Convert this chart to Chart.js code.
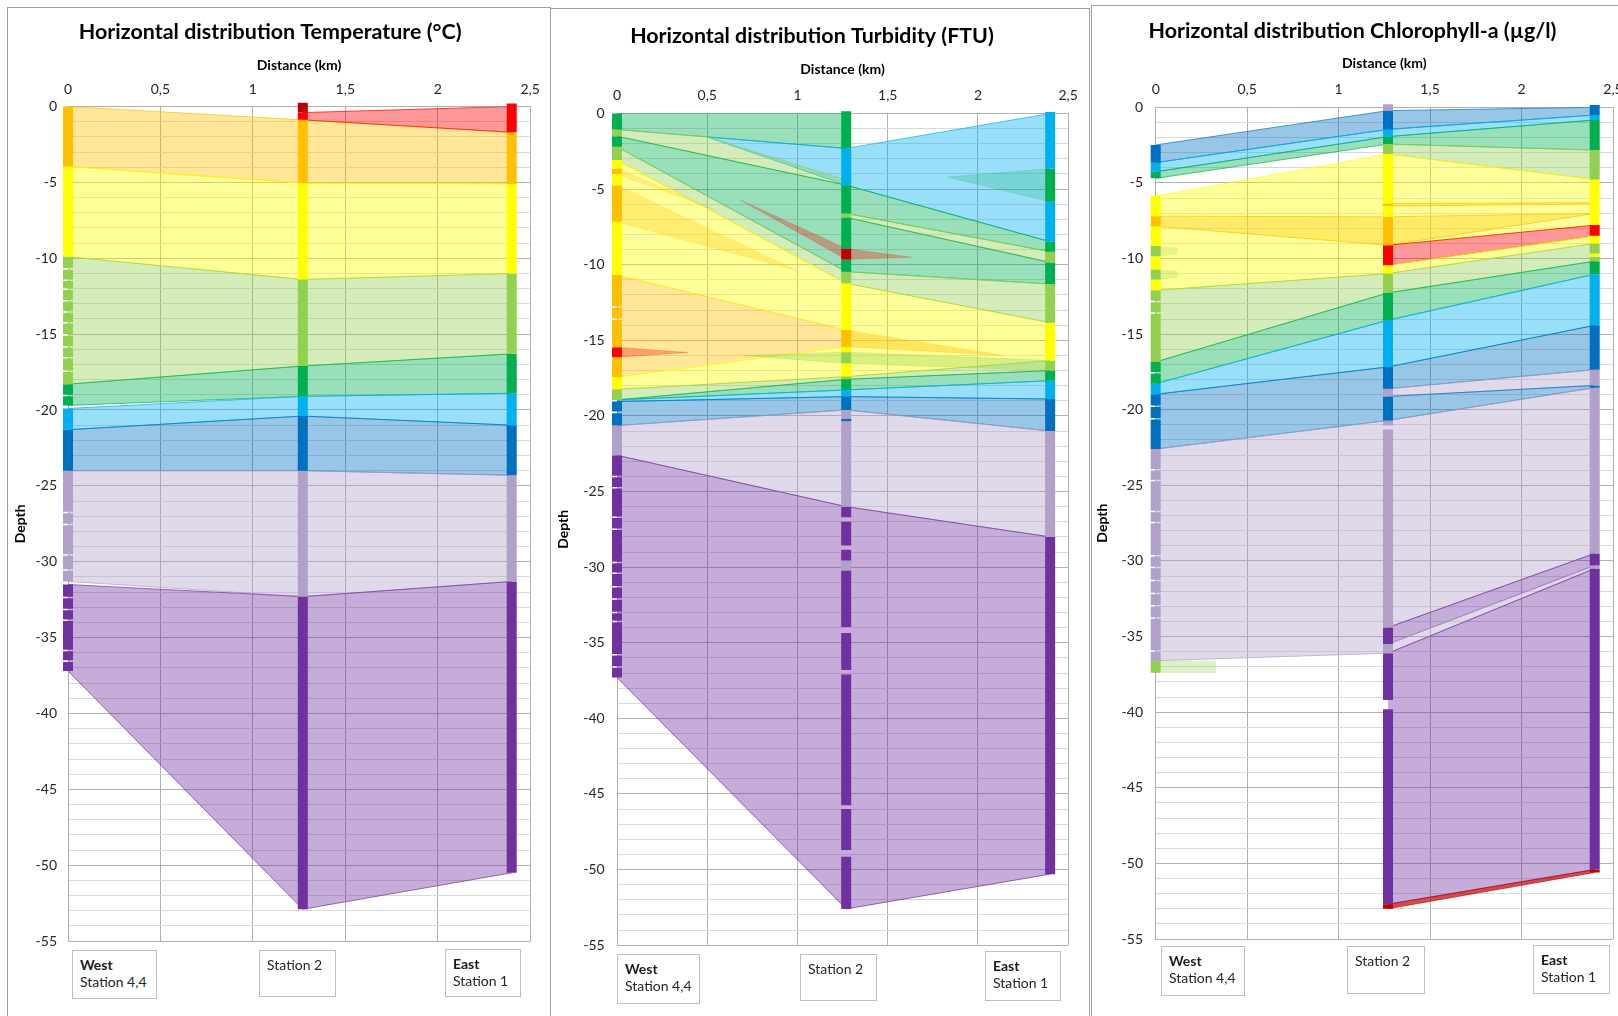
<!DOCTYPE html>
<html>
<head>
<meta charset="utf-8">
<title>Horizontal distribution</title>
<script src="https://cdn.jsdelivr.net/npm/chart.js@4.4.1/dist/chart.umd.min.js"></script>
<style>
  html, body { margin: 0; padding: 0; background: #fff; width: 1618px; height: 1016px; overflow: hidden; position: relative; }
  .panel { position: absolute; border: 1px solid #a0a0a0; background: #fff; box-sizing: border-box; }
  canvas { position: absolute; }
  .box { position: absolute; border: 1px solid #bfbfbf; background: #fff; box-sizing: border-box;
         font: 14px Lato, "Open Sans", sans-serif; color: #262626; line-height: 17px; padding: 5px 0 0 7px; }
  .box b { font-weight: 700; color: #1a1a1a; }
</style>
</head>
<body>
<div class="panel" style="left:7px;top:7px;width:544px;height:1012px"></div>
<div class="panel" style="left:550px;top:8px;width:540px;height:1011px"></div>
<div class="panel" style="left:1091px;top:5px;width:560px;height:1014px"></div>

<canvas id="tempChart" width="541" height="1007" style="left:8px;top:8px"></canvas>
<canvas id="turbChart" width="537" height="1006" style="left:551px;top:9px"></canvas>
<canvas id="chlChart" width="546" height="1009" style="left:1092px;top:6px"></canvas>

<div class="box" style="left:72px;top:950px;width:85px;height:49px"><b>West</b><br>Station 4,4</div>
<div class="box" style="left:259px;top:950px;width:77px;height:47px">Station 2</div>
<div class="box" style="left:445px;top:949px;width:76px;height:48px"><b>East</b><br>Station 1</div>

<div class="box" style="left:617px;top:954px;width:83px;height:50px"><b>West</b><br>Station 4,4</div>
<div class="box" style="left:800px;top:954px;width:77px;height:47px">Station 2</div>
<div class="box" style="left:985px;top:951px;width:76px;height:50px"><b>East</b><br>Station 1</div>

<div class="box" style="left:1161px;top:946px;width:84px;height:50px"><b>West</b><br>Station 4,4</div>
<div class="box" style="left:1347px;top:946px;width:78px;height:48px">Station 2</div>
<div class="box" style="left:1533px;top:945px;width:77px;height:49px"><b>East</b><br>Station 1</div>

<script>
// ---- axes ----
const distanceTicks  = [0, 0.5, 1, 1.5, 2, 2.5];
const distanceLabels = ['0', '0,5', '1', '1,5', '2', '2,5'];
const depthLabels    = [0, -5, -10, -15, -20, -25, -30, -35, -40, -45, -50, -55];

// ---- station positions along the transect (km) ----
const stationKm = [0, 1.27, 2.4];
const W = stationKm[0], M = stationKm[1], E = stationKm[2];

// class colours
const palette = {
  dred: '#C00000', red: '#FF0000', orange: '#FFC000', yellow: '#FFFF00', lgreen: '#92D050',
  green: '#00B050', lblue: '#00B0F0', blue: '#0070C0', lav: '#B1A0C7', purple: '#7030A0'
};

// ===== Temperature =====
// band: [class, x (km), top depth, bottom depth, fill opacity?, outline opacity?]
const tempBands = [
  ['orange', [W, M, E], [0, -0.88, -1.7], [-3.95, -5.05, -5.1]],
  ['red',    [M, E], [-0.4, 0], [-0.88, -1.7]],
  ['yellow', [W, M, E], [-3.95, -5.05, -5.1], [-9.9, -11.4, -11.0]],
  ['lgreen', [W, M, E], [-9.9, -11.4, -11.0], [-18.3, -17.1, -16.3]],
  ['green',  [W, M, E], [-18.3, -17.1, -16.3], [-19.7, -19.1, -18.9]],
  ['lblue',  [W, M, E], [-19.9, -19.1, -18.9], [-21.3, -20.4, -21.0]],
  ['blue',   [W, M, E], [-21.3, -20.4, -21.0], [-24.0, -24.0, -24.3]],
  ['lav',    [W, M, E], [-24.0, -24.0, -24.3], [-31.3, -32.3, -31.3]],
  ['purple', [W, M, E], [-31.5, -32.3, -31.3], [-37.2, -52.9, -50.5]]
];
// profile segments: [class, top, bottom]
const tempProfileW = [
  ['orange', 0, -3.95], ['yellow', -3.95, -9.9],
  ['lgreen', -9.9, -10.65], ['lgreen', -10.75, -11.4], ['lgreen', -11.5, -12.0], ['lgreen', -12.1, -12.75],
  ['lgreen', -12.85, -13.5], ['lgreen', -13.6, -14.2], ['lgreen', -14.3, -15.0], ['lgreen', -15.1, -15.8],
  ['lgreen', -15.9, -16.5], ['lgreen', -16.6, -17.4], ['lgreen', -17.5, -18.3],
  ['green', -18.3, -19.0], ['green', -19.1, -19.7],
  ['lblue', -19.9, -21.3], ['blue', -21.3, -24.0],
  ['lav', -24.0, -26.7], ['lav', -26.8, -27.5], ['lav', -27.6, -29.5], ['lav', -29.6, -30.5], ['lav', -30.6, -31.3],
  ['purple', -31.5, -32.3], ['purple', -32.4, -33.1], ['purple', -33.2, -33.8], ['purple', -33.9, -35.8],
  ['purple', -35.9, -36.5], ['purple', -36.6, -37.2]
];
const tempProfileM = [
  ['dred', 0.25, -0.4], ['red', -0.4, -0.88], ['orange', -0.88, -5.05], ['yellow', -5.05, -11.4],
  ['lgreen', -11.4, -17.1], ['green', -17.1, -19.1], ['lblue', -19.1, -20.4], ['blue', -20.4, -24.0],
  ['lav', -24.0, -32.3], ['purple', -32.3, -52.9]
];
const tempProfileE = [
  ['red', 0.2, -1.7], ['orange', -1.7, -5.1], ['yellow', -5.1, -11.0], ['lgreen', -11.0, -16.3],
  ['green', -16.3, -18.9], ['lblue', -18.9, -21.0], ['blue', -21.0, -24.3], ['lav', -24.3, -31.3],
  ['purple', -31.3, -50.5]
];

// ===== Turbidity =====
const turbBands = [
  ['green',  [W, M], [0, 0], [-1.06, -2.31]],
  ['lblue',  [0.5, M, E], [-1.55, -2.31, 0], [-1.55, -4.74, -8.48]],
  ['lgreen', [W, 0.5, M], [-1.06, -1.55, -4.4], [-1.5, -2.78, -4.74]],
  ['green',  [W, M], [-1.5, -4.74], [-2.2, -10.46]],
  ['lgreen', [W, M], [-2.2, -10.46], [-3.08, -11.23]],
  ['yellow', [W, M], [-3.08, -11.23], [-10.68, -14.32]],
  ['orange', [W, 0.55], [-3.63, -6.4], [-4.0, -6.4], 0.25, 0.2],
  ['orange', [W, 1.0], [-4.74, -10.4], [-7.16, -10.4], 0.28, 0.2],
  ['yellow', [M, E], [-11.23, -13.83], [-17.4, -16.34]],
  ['orange', [W, M, 2.14], [-10.68, -14.32, -16.0], [-17.44, -15.42, -16.0], 0.4, 0.25],
  ['yellow', [W, M], [-17.44, -15.42], [-18.24, -17.4]],
  ['lgreen', [0.7, M, E], [-16.0, -15.79, -16.34], [-16.0, -16.52, -17.0], 0.35, 0.3],
  ['red',    [W, 0.39], [-15.46, -15.8], [-16.12, -15.8], 0.3, 0.2],
  ['lgreen', [W, M, E], [-18.24, -17.4, -16.34], [-18.94, -17.58, -17.0]],
  ['green',  [W, M, E], [-18.94, -17.58, -17.0], [-18.94, -18.28, -17.67]],
  ['lblue',  [W, M, E], [-18.94, -18.28, -17.67], [-19.05, -18.72, -18.88]],
  ['blue',   [W, M, E], [-19.05, -18.72, -18.88], [-20.64, -19.6, -21.0]],
  ['lav',    [W, M, E], [-20.64, -19.6, -21.0], [-22.6, -26.0, -28.0]],
  ['purple', [W, M, E], [-22.6, -26.0, -28.0], [-37.3, -52.6, -50.3]],
  ['green',  [1.83, E], [-4.2, -3.63], [-4.2, -5.84], 0.22, 0.15],
  ['green',  [M, E], [-4.74, -8.48], [-6.61, -9.14]],
  ['lgreen', [M, E], [-6.61, -9.14], [-6.87, -9.85]],
  ['green',  [M, E], [-6.87, -9.85], [-10.46, -11.28]],
  ['lgreen', [M, E], [-10.46, -11.28], [-11.23, -13.83]],
  ['red',    [0.68, M, 1.63], [-5.7, -8.92, -9.5], [-5.7, -9.65, -9.5], 0.3, 0.15]
];
const turbProfileW = [
  ['green', 0, -1.06], ['lgreen', -1.06, -1.5], ['green', -1.5, -2.2], ['lgreen', -2.2, -3.08],
  ['yellow', -3.08, -3.63], ['orange', -3.63, -4.0], ['yellow', -4.0, -4.74], ['orange', -4.74, -7.16],
  ['yellow', -7.16, -10.68], ['orange', -10.68, -12.75], ['orange', -12.85, -13.55], ['orange', -13.65, -15.46],
  ['red', -15.46, -16.12], ['orange', -16.12, -17.44], ['yellow', -17.44, -18.24], ['lgreen', -18.24, -18.94],
  ['blue', -19.05, -19.71], ['blue', -19.82, -20.64], ['lav', -20.64, -22.6],
  ['purple', -22.6, -23.95], ['purple', -24.05, -24.7], ['purple', -24.8, -26.65], ['purple', -26.75, -27.45],
  ['purple', -27.55, -29.65], ['purple', -29.75, -30.35], ['purple', -30.45, -31.25], ['purple', -31.35, -32.05],
  ['purple', -32.15, -32.95], ['purple', -33.05, -33.55], ['purple', -33.65, -35.75], ['purple', -35.85, -36.55],
  ['purple', -36.65, -37.3]
];
const turbProfileM = [
  ['green', 0.15, -2.31], ['lblue', -2.31, -4.74], ['green', -4.74, -6.61], ['lgreen', -6.61, -6.87],
  ['green', -6.87, -8.92], ['dred', -8.92, -9.65], ['green', -9.65, -10.46], ['lgreen', -10.46, -11.23],
  ['yellow', -11.23, -14.32], ['orange', -14.32, -15.42], ['yellow', -15.42, -15.79], ['lgreen', -15.79, -16.52],
  ['yellow', -16.52, -17.4], ['lgreen', -17.4, -17.58], ['green', -17.58, -18.28], ['lblue', -18.28, -18.72],
  ['blue', -18.72, -19.6], ['lav', -19.6, -20.2], ['blue', -20.2, -20.35], ['lav', -20.35, -26.0],
  ['purple', -26.0, -26.7], ['purple', -27.0, -28.57], ['purple', -28.85, -29.56], ['lav', -29.56, -30.22],
  ['purple', -30.22, -33.96], ['purple', -34.36, -36.8], ['purple', -37.1, -45.75], ['purple', -46.0, -48.7],
  ['purple', -49.15, -52.6]
];
const turbProfileE = [
  ['lblue', 0.1, -3.63], ['green', -3.63, -5.84], ['lblue', -5.84, -8.48], ['green', -8.48, -9.14],
  ['lgreen', -9.14, -9.85], ['green', -9.85, -11.28], ['lgreen', -11.28, -13.83], ['yellow', -13.83, -16.34],
  ['lgreen', -16.34, -17.0], ['green', -17.0, -17.67], ['lblue', -17.67, -18.88], ['blue', -18.88, -21.0],
  ['lav', -21.0, -28.0], ['purple', -28.0, -50.3]
];

// ===== Chlorophyll-a =====
const chlBands = [
  ['blue',   [W, M, E], [-2.49, -0.22, 0], [-3.66, -1.46, -0.51]],
  ['lblue',  [W, M, E], [-3.66, -1.46, -0.51], [-4.26, -1.94, -0.84]],
  ['green',  [W, M, E], [-4.26, -1.94, -0.84], [-4.7, -2.43, -2.83]],
  ['lgreen', [M, E], [-2.43, -2.83], [-3.09, -4.77]],
  ['yellow', [W, M], [-5.87, -3.09], [-12.1, -10.99]],
  ['yellow', [M, E], [-3.09, -4.77], [-9.12, -7.79]],
  ['orange', [M, E], [-6.36, -6.31], [-6.53, -6.4]],
  ['orange', [W, M, E], [-7.2, -7.24, -7.02], [-7.86, -9.12, -7.02], 0.32],
  ['red',    [M, E], [-9.12, -7.79], [-10.44, -8.5]],
  ['yellow', [M, E], [-10.44, -8.5], [-10.99, -9.0]],
  ['lgreen', [W, M, E], [-12.1, -10.99, -9.0], [-16.84, -12.27, -10.18]],
  ['green',  [W, M, E], [-16.84, -12.27, -10.18], [-18.28, -14.08, -11.04]],
  ['lblue',  [W, M, E], [-18.28, -14.08, -11.04], [-18.98, -17.17, -14.42]],
  ['blue',   [W, M], [-18.98, -17.17], [-22.6, -20.71]],
  ['blue',   [M, E], [-17.17, -14.42], [-18.61, -17.35]],
  ['lav',    [M, E], [-18.61, -17.35], [-19.12, -18.39]],
  ['blue',   [M, E], [-19.12, -18.39], [-20.71, -18.54]],
  ['lav',    [W, M], [-22.6, -20.71], [-36.6, -36.1]],
  ['lav',    [M, E], [-20.71, -18.54], [-34.4, -29.5]],
  ['purple', [M, E], [-34.4, -29.5], [-35.5, -30.3]],
  ['lav',    [M, E], [-35.5, -30.3], [-36.1, -30.5]],
  ['purple', [M, E], [-36.1, -30.5], [-52.7, -50.4]],
  ['dred',   [M, E], [-52.7, -50.4], [-53.0, -50.6], 0.7, 0.6],
  ['lgreen', [W, 0.33], [-36.6, -36.6], [-37.4, -37.4], 0.3, 0.1],
  ['lgreen', [W, 0.12], [-9.18, -9.3], [-9.85, -9.7], 0.25, 0.1],
  ['lgreen', [W, 0.12], [-10.73, -10.85], [-11.39, -11.25], 0.25, 0.1]
];
const chlProfileW = [
  ['blue', -2.49, -3.66], ['lblue', -3.66, -4.26], ['green', -4.26, -4.7],
  ['yellow', -5.87, -7.2], ['orange', -7.2, -7.86], ['yellow', -7.86, -9.18], ['lgreen', -9.18, -9.85],
  ['yellow', -9.85, -10.73], ['lgreen', -10.73, -11.39], ['yellow', -11.39, -12.1],
  ['lgreen', -12.1, -12.8], ['lgreen', -12.9, -13.55], ['lgreen', -13.65, -16.84],
  ['green', -16.84, -17.5], ['green', -17.6, -18.28], ['lblue', -18.28, -18.98],
  ['blue', -18.98, -19.72], ['blue', -19.82, -20.55], ['blue', -20.65, -22.6],
  ['lav', -22.6, -23.92], ['lav', -24.02, -24.63], ['lav', -24.73, -26.68], ['lav', -26.78, -27.4],
  ['lav', -27.5, -29.6], ['lav', -29.7, -30.38], ['lav', -30.48, -31.25], ['lav', -31.35, -32.1],
  ['lav', -32.2, -32.92], ['lav', -33.02, -33.72], ['lav', -33.82, -35.9], ['lav', -36.0, -36.6],
  ['lgreen', -36.6, -37.4]
];
const chlProfileM = [
  ['lav', 0.2, -0.22], ['blue', -0.22, -1.46], ['lblue', -1.46, -1.94], ['green', -1.94, -2.43],
  ['lgreen', -2.43, -3.09], ['yellow', -3.09, -6.36], ['orange', -6.36, -6.53], ['yellow', -6.53, -7.24],
  ['orange', -7.24, -9.12], ['red', -9.12, -10.44], ['yellow', -10.44, -10.99], ['lgreen', -10.99, -12.27],
  ['green', -12.27, -14.08], ['lblue', -14.08, -17.17], ['blue', -17.17, -18.61], ['lav', -18.61, -19.12],
  ['blue', -19.12, -20.71], ['lav', -20.71, -21.05], ['lav', -21.3, -34.4], ['purple', -34.4, -35.5],
  ['lav', -35.5, -36.1], ['purple', -36.1, -39.2], ['purple', -39.8, -52.7], ['dred', -52.7, -53.0]
];
const chlProfileE = [
  ['blue', 0.15, -0.51], ['lblue', -0.51, -0.84], ['green', -0.84, -2.83], ['lgreen', -2.83, -4.77],
  ['yellow', -4.77, -7.79], ['red', -7.79, -8.5], ['yellow', -8.5, -9.0], ['lgreen', -9.0, -9.67],
  ['yellow', -9.67, -9.89], ['lgreen', -9.89, -10.18], ['green', -10.18, -11.04], ['lblue', -11.04, -14.42],
  ['blue', -14.42, -17.35], ['lav', -17.35, -18.39], ['blue', -18.39, -18.54], ['lav', -18.54, -29.5],
  ['purple', -29.5, -30.3], ['lav', -30.3, -30.5], ['purple', -30.5, -50.4], ['dred', -50.4, -50.6]
];

// ---- drawing helpers ----
const FONT = 'Lato, "Open Sans", sans-serif';

function rgba(hex, a) {
  const n = parseInt(hex.slice(1), 16);
  return `rgba(${(n >> 16) & 255},${(n >> 8) & 255},${n & 255},${a})`;
}

// each band = an outline dataset (top) plus a dataset (bottom) filled up to it
function bandDatasets(bands) {
  const out = [];
  bands.forEach(([key, xs, tops, bottoms, alpha, lineAlpha], i) => {
    const c = palette[key];
    const common = { type: 'line', pointRadius: 0, borderWidth: 1, borderColor: rgba(c, lineAlpha ?? 0.7),
                     tension: 0, order: 1000 - i };
    out.push({ ...common, data: xs.map((x, k) => ({ x, y: tops[k] })), fill: false });
    out.push({ ...common, data: xs.map((x, k) => ({ x, y: bottoms[k] })), fill: '-1',
               backgroundColor: rgba(c, alpha ?? 0.4) });
  });
  return out;
}

// measured profile at one station: thick vertical segments
function profileDatasets(x, segments) {
  return segments.map(([key, top, bottom]) => ({
    type: 'line', data: [{ x, y: top }, { x, y: bottom }], borderColor: palette[key],
    borderWidth: 10, borderCapStyle: 'butt', pointRadius: 0, fill: false, order: 0, clip: false
  }));
}

function fitFontSize(text, width) {
  const ctx = document.createElement('canvas').getContext('2d');
  ctx.font = `bold 20px ${FONT}`;
  return 20 * width / ctx.measureText(text).width;
}

function buildChart(id, spec) {
  const L = spec.layout;
  const tSize = fitFontSize(spec.title, L.titleWidth);
  const tLine = tSize * 1.2;
  const tPadTop = L.titleY - tLine / 2;
  const titleBottom = tPadTop + tLine;
  const xAxisHeight = L.plotTop - titleBottom;
  const axisFont = 14, axisHalf = axisFont * 1.2 / 2;

  const datasets = [
    ...bandDatasets(spec.bands),
    ...profileDatasets(stationKm[0], spec.profiles[0]),
    ...profileDatasets(stationKm[1], spec.profiles[1]),
    ...profileDatasets(stationKm[2], spec.profiles[2])
  ];

  return new Chart(document.getElementById(id), {
    type: 'line',
    data: { datasets },
    options: {
      responsive: false,
      animation: false,
      events: [],
      layout: { padding: { left: 0, top: 0, right: L.padRight, bottom: L.padBottom } },
      plugins: {
        legend: { display: false },
        tooltip: { enabled: false },
        title: {
          display: true, text: spec.title, color: '#000',
          font: { family: FONT, size: tSize, weight: 'bold', lineHeight: 1.2 },
          padding: { top: tPadTop, bottom: 0 }
        }
      },
      scales: {
        x: {
          type: 'linear', position: 'top', min: 0, max: 2.5,
          afterBuildTicks: s => { s.ticks = distanceTicks.map(v => ({ value: v })); },
          afterFit: s => { s.height = xAxisHeight; },
          ticks: { padding: L.xTickPad - 0.6, color: '#262626', font: { family: FONT, size: axisFont },
                   callback: (v, i) => distanceLabels[i] },
          grid: { color: '#b0b0b0', drawTicks: false },
          border: { display: true, color: '#b0b0b0' },
          title: { display: true, text: 'Distance (km)', color: '#000',
                   font: { family: FONT, size: axisFont, weight: 'bold', lineHeight: 1.2 },
                   padding: { top: L.distY - titleBottom - axisHalf, bottom: 0 } }
        },
        y: {
          type: 'linear', min: -55, max: 0,
          afterBuildTicks: s => { const t = []; for (let v = -55; v <= 0; v++) t.push({ value: v }); s.ticks = t; },
          afterFit: s => { s.width = L.plotLeft; },
          ticks: { autoSkip: false, padding: L.yTickPad, color: '#262626', font: { family: FONT, size: axisFont },
                   callback: v => depthLabels.includes(v) ? String(v) : '' },
          grid: { drawTicks: false, color: c => (c.tick && c.tick.value % 5 === 0) ? '#b0b0b0' : '#d9d9d9' },
          border: { display: true, color: '#b0b0b0' },
          title: { display: true, text: 'Depth', color: '#000',
                   font: { family: FONT, size: axisFont, weight: 'bold', lineHeight: 1.2 },
                   padding: { top: L.depthX - axisHalf, bottom: 0 } }
        }
      }
    }
  });
}

buildChart('tempChart', {
  title: 'Horizontal distribution Temperature (°C)',
  bands: tempBands,
  profiles: [tempProfileW, tempProfileM, tempProfileE],
  layout: { plotLeft: 60, plotTop: 98.5, padRight: 16.6, padBottom: 73.9, titleY: 24, titleWidth: 383,
            distY: 57, xTickPad: 9.7, yTickPad: 11, depthX: 12.6 }
});

buildChart('turbChart', {
  title: 'Horizontal distribution Turbidity (FTU)',
  bands: turbBands,
  profiles: [turbProfileW, turbProfileM, turbProfileE],
  layout: { plotLeft: 66, plotTop: 104.5, padRight: 15, padBottom: 69.8, titleY: 27, titleWidth: 364,
            distY: 60, xTickPad: 10.7, yTickPad: 12.3, depthX: 12 }
});

buildChart('chlChart', {
  title: 'Horizontal distribution Chlorophyll-a (µg/l)',
  bands: chlBands,
  profiles: [chlProfileW, chlProfileM, chlProfileE],
  layout: { plotLeft: 63.7, plotTop: 101.3, padRight: 25, padBottom: 76, titleY: 25, titleWidth: 408,
            distY: 57, xTickPad: 10.5, yTickPad: 12.7, depthX: 10 }
});
</script>
</body>
</html>
